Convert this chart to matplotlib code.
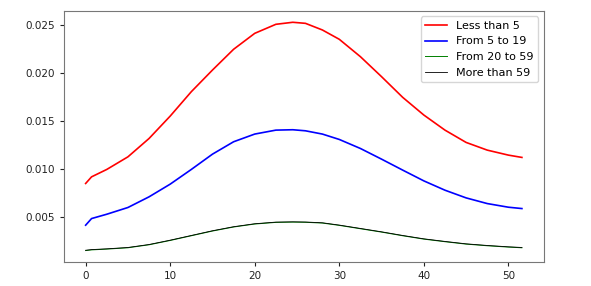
import numpy as np
import matplotlib
matplotlib.use('Agg')
import matplotlib.pyplot as plt

# values
xPoints   = [0, 0.7, 2.5, 5, 7.5, 10, 12.5, 15, 17.5, 20, 22.5, 24.5, 26, 28, 30,
             32.5, 35, 37.5, 40, 42.5, 45, 47.5, 50, 51.6]
lessThan5 = [0.00851, 0.00920, 0.00997, 0.01128, 0.01319, 0.01552, 0.01806, 0.02031,
             0.02247, 0.02413, 0.02507, 0.02528, 0.02517, 0.02448, 0.02351, 0.02170,
             0.01962, 0.01747, 0.01563, 0.01406, 0.01278, 0.01198, 0.01146, 0.01122]
from5to19 = [0.00417, 0.00486, 0.00531, 0.00601, 0.00712, 0.00844, 0.00997, 0.01156,
             0.01285, 0.01365, 0.01406, 0.01410, 0.01399, 0.01365, 0.01309, 0.01215,
             0.01104, 0.00990, 0.00878, 0.00781, 0.00701, 0.00642, 0.00604, 0.00590]
from20to59 = [0.00153, 0.00160, 0.00168, 0.00182, 0.00213, 0.00258, 0.00307, 0.00356,
              0.00398, 0.00429, 0.00446, 0.00449, 0.00447, 0.00439, 0.00415, 0.00380,
              0.00345, 0.00307, 0.00272, 0.00245, 0.00220, 0.00203, 0.00189, 0.00182]
moreThan59 = [0.00156, 0.00163, 0.00171, 0.00185, 0.00216, 0.00261, 0.00310, 0.00359,
              0.00401, 0.00432, 0.00449, 0.00452, 0.00450, 0.00442, 0.00418, 0.00383,
              0.00348, 0.00310, 0.00275, 0.00248, 0.00223, 0.00206, 0.00192, 0.00185]
labels = ['Less than 5', 'From 5 to 19', 'From 20 to 59', 'More than 59']

plt.rcParams['font.size'] = 7.5

fig = plt.figure(figsize=(5.91, 2.86), dpi=100)
ax  = fig.add_axes([0.108, 0.084, 0.812, 0.878])

ax.plot(xPoints, lessThan5, 'r', lw=1.2, label=labels[0])
ax.plot(xPoints, from5to19, 'b', lw=1.2, label=labels[1])
ax.plot(xPoints, from20to59, 'g', lw=0.7, label=labels[2])
ax.plot(xPoints, moreThan59, 'k', lw=0.6, label=labels[3])

ax.set_yticks([0.005, 0.010, 0.015, 0.020, 0.025])
for s in ax.spines.values():
    s.set_color('#777777')
ax.tick_params(colors='#222222', length=3)
ax.legend(loc='upper right', fontsize=8)

fig.savefig('out.png', dpi=100)
